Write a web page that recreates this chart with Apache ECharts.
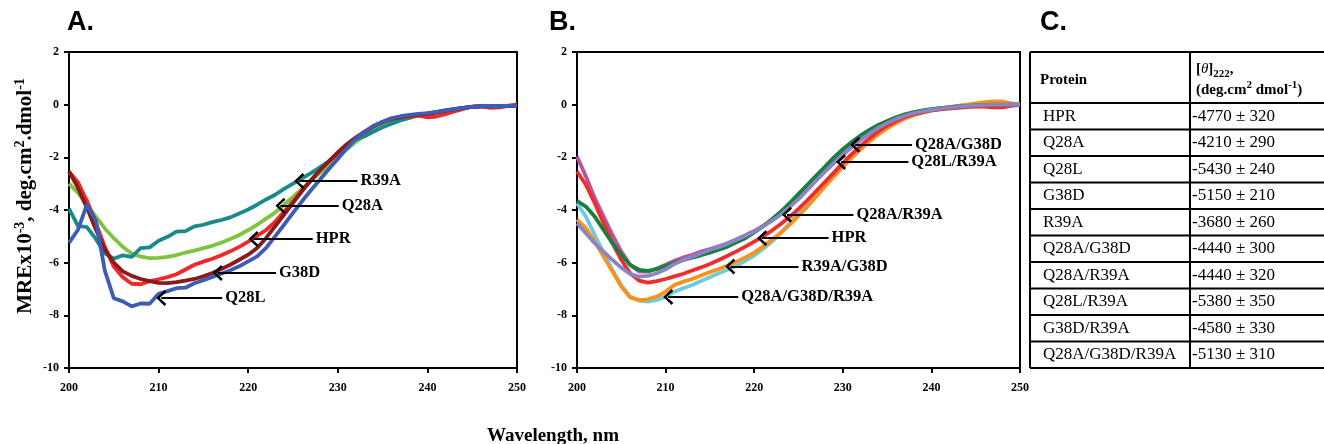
<!DOCTYPE html>
<html lang="en">
<head>
    <meta charset="UTF-8">
    <title>CD spectra</title>
    <script type="text/javascript" src="https://cdn.jsdelivr.net/npm/echarts@6/dist/echarts.min.js"></script>
    <style>
        html, body { margin: 0; padding: 0; background: #fff; }
        #chart { width: 1324px; height: 444px; }
    </style>
</head>
<body>
<div id="chart"></div>

<script type="text/javascript">
    // wavelength grid, nm
    var wavelengths = [200, 201, 202, 203, 204, 205, 206, 207, 208, 209, 210, 211, 212, 213, 214, 215, 216, 217, 218, 219,
        220, 221, 222, 223, 224, 225, 226, 227, 228, 229, 230, 231, 232, 233, 234, 235, 236, 237, 238, 239,
        240, 241, 242, 243, 244, 245, 246, 247, 248, 249, 250];

    // panel A, MRE x10^-3
    var a_HPR = [-2.55, -2.95, -3.65, -4.5, -5.4, -6.15, -6.55, -6.8, -6.82, -6.7, -6.63, -6.55, -6.44, -6.26, -6.08, -5.96, -5.85, -5.72, -5.57, -5.4,
        -5.2, -4.98, -4.76, -4.45, -4.07, -3.68, -3.25, -2.87, -2.5, -2.15, -1.85, -1.52, -1.26, -1.05, -0.82, -0.66, -0.52, -0.46, -0.45, -0.42,
        -0.48, -0.45, -0.36, -0.26, -0.16, -0.07, -0.06, -0.12, -0.1, -0.05, 0.0];
    var a_Q28A = [-3.0, -3.35, -3.8, -4.25, -4.7, -5.07, -5.4, -5.65, -5.77, -5.83, -5.82, -5.78, -5.71, -5.62, -5.54, -5.45, -5.36, -5.24, -5.1, -4.95,
        -4.76, -4.56, -4.33, -4.1, -3.8, -3.5, -3.2, -2.9, -2.6, -2.3, -2.0, -1.7, -1.42, -1.17, -0.96, -0.8, -0.65, -0.55, -0.46, -0.39,
        -0.33, -0.28, -0.22, -0.17, -0.12, -0.08, -0.06, -0.06, -0.05, -0.04, -0.03];
    var a_Q28L = [-5.25, -4.75, -3.8, -4.4, -6.3, -7.35, -7.47, -7.66, -7.55, -7.56, -7.18, -7.08, -6.97, -6.95, -6.78, -6.67, -6.54, -6.42, -6.29, -6.14,
        -5.95, -5.76, -5.44, -5.0, -4.56, -4.11, -3.67, -3.25, -2.85, -2.44, -2.06, -1.66, -1.3, -1.02, -0.8, -0.65, -0.52, -0.44, -0.39, -0.35,
        -0.32, -0.27, -0.22, -0.17, -0.12, -0.08, -0.06, -0.05, -0.05, -0.05, -0.04];
    var a_G38D = [-2.53, -3.16, -3.92, -4.75, -5.5, -6.0, -6.33, -6.5, -6.62, -6.7, -6.77, -6.78, -6.74, -6.68, -6.62, -6.52, -6.39, -6.24, -6.08, -5.89,
        -5.7, -5.44, -5.06, -4.62, -4.18, -3.73, -3.29, -2.87, -2.49, -2.15, -1.81, -1.5, -1.25, -1.02, -0.82, -0.67, -0.55, -0.47, -0.42, -0.38,
        -0.35, -0.3, -0.24, -0.18, -0.12, -0.08, -0.06, -0.06, -0.06, -0.05, -0.04];
    var a_R39A = [-3.95, -4.6, -4.65, -5.1, -5.65, -5.85, -5.72, -5.78, -5.45, -5.42, -5.17, -5.02, -4.82, -4.8, -4.62, -4.56, -4.46, -4.38, -4.28, -4.13,
        -3.98, -3.8, -3.6, -3.42, -3.2, -3.0, -2.8, -2.6, -2.38, -2.15, -1.88, -1.58, -1.32, -1.2, -1.02, -0.86, -0.72, -0.6, -0.5, -0.41,
        -0.34, -0.28, -0.22, -0.17, -0.12, -0.08, -0.06, -0.05, -0.05, -0.05, -0.05];

    // panel B
    var b_HPR = [-2.54, -3.04, -3.74, -4.5, -5.26, -5.9, -6.4, -6.68, -6.76, -6.7, -6.62, -6.52, -6.42, -6.3, -6.18, -6.05, -5.9, -5.74, -5.57, -5.39,
        -5.2, -5.0, -4.78, -4.53, -4.26, -3.96, -3.63, -3.28, -2.93, -2.58, -2.22, -1.88, -1.57, -1.28, -1.02, -0.8, -0.62, -0.47, -0.36, -0.28,
        -0.22, -0.18, -0.15, -0.12, -0.09, -0.07, -0.07, -0.1, -0.1, -0.05, 0.0];
    var b_Q28A_R39A = [-1.97, -2.72, -3.55, -4.25, -4.95, -5.58, -6.08, -6.34, -6.34, -6.22, -6.08, -5.93, -5.8, -5.7, -5.58, -5.48, -5.38, -5.26, -5.11, -4.96,
        -4.8, -4.6, -4.38, -4.13, -3.84, -3.53, -3.19, -2.84, -2.5, -2.17, -1.85, -1.56, -1.3, -1.06, -0.85, -0.67, -0.52, -0.4, -0.31, -0.24,
        -0.18, -0.13, -0.09, -0.06, -0.03, -0.01, 0.0, 0.02, 0.02, 0.01, 0.0];
    var b_Q28A_G38D = [-3.65, -3.87, -4.25, -4.76, -5.26, -5.7, -6.09, -6.27, -6.31, -6.25, -6.12, -6.0, -5.9, -5.81, -5.72, -5.62, -5.51, -5.39, -5.23, -5.07,
        -4.85, -4.62, -4.35, -4.06, -3.74, -3.39, -3.04, -2.69, -2.35, -2.0, -1.69, -1.42, -1.17, -0.96, -0.77, -0.62, -0.48, -0.37, -0.28, -0.22,
        -0.17, -0.13, -0.1, -0.07, -0.05, -0.03, -0.02, 0.0, 0.0, 0.0, 0.0];
    var b_Q28L_R39A = [-4.5, -4.88, -5.26, -5.58, -5.9, -6.19, -6.43, -6.53, -6.5, -6.4, -6.25, -6.05, -5.9, -5.77, -5.64, -5.51, -5.41, -5.28, -5.13, -4.98,
        -4.82, -4.62, -4.41, -4.18, -3.89, -3.59, -3.24, -2.88, -2.54, -2.22, -1.9, -1.62, -1.35, -1.1, -0.88, -0.7, -0.54, -0.42, -0.32, -0.25,
        -0.2, -0.15, -0.11, -0.08, -0.05, -0.03, -0.02, 0.0, 0.0, 0.0, 0.0];
    var b_R39A_G38D = [-4.37, -4.69, -5.2, -5.77, -6.34, -6.91, -7.32, -7.42, -7.39, -7.29, -7.1, -6.85, -6.72, -6.62, -6.49, -6.36, -6.24, -6.11, -5.96, -5.8,
        -5.62, -5.39, -5.13, -4.86, -4.56, -4.22, -3.87, -3.49, -3.1, -2.73, -2.37, -2.02, -1.7, -1.4, -1.13, -0.9, -0.7, -0.53, -0.4, -0.3,
        -0.22, -0.16, -0.1, -0.05, 0.0, 0.05, 0.1, 0.12, 0.12, 0.05, 0.0];
    var b_Q28A_G38D_R39A = [-3.74, -4.25, -4.94, -5.64, -6.28, -6.85, -7.29, -7.44, -7.48, -7.42, -7.29, -7.1, -6.97, -6.85, -6.7, -6.55, -6.4, -6.27, -6.12, -5.93,
        -5.73, -5.48, -5.2, -4.88, -4.5, -4.12, -3.74, -3.34, -2.96, -2.6, -2.25, -1.93, -1.62, -1.34, -1.08, -0.85, -0.66, -0.5, -0.38, -0.29,
        -0.22, -0.17, -0.12, -0.08, -0.05, -0.02, 0.0, 0.02, 0.02, 0.0, 0.0];

    // axis ticks
    var xTicks = [200, 210, 220, 230, 240, 250];
    var yTicks = [-10, -8, -6, -4, -2, 0, 2];

    // arrow annotations: label, tip wavelength, tip value, tail wavelength
    var arrowsA_label = ['R39A', 'Q28A', 'HPR', 'G38D', 'Q28L'];
    var arrowsA_tipX = [225.7, 223.6, 220.6, 216.6, 210.3];
    var arrowsA_tipY = [-2.9, -3.84, -5.1, -6.39, -7.34];
    var arrowsA_endX = [232.2, 230.1, 227.2, 223.1, 217.1];

    var arrowsB_label = ['Q28A/G38D', 'Q28L/R39A', 'Q28A/R39A', 'HPR', 'R39A/G38D', 'Q28A/G38D/R39A'];
    var arrowsB_tipX = [231.4, 229.8, 223.7, 220.9, 217.3, 210.3];
    var arrowsB_tipY = [-1.52, -2.18, -4.18, -5.07, -6.15, -7.3];
    var arrowsB_endX = [237.8, 237.4, 231.2, 228.4, 225.0, 218.2];

    // table C
    var tableProteins = ['HPR', 'Q28A', 'Q28L', 'G38D', 'R39A', 'Q28A/G38D', 'Q28A/R39A', 'Q28L/R39A', 'G38D/R39A', 'Q28A/G38D/R39A'];
    var tableTheta = ['-4770 ± 320', '-4210 ± 290', '-5430 ± 240', '-5150 ± 210', '-3680 ± 260',
        '-4440 ± 300', '-4440 ± 320', '-5380 ± 350', '-4580 ± 330', '-5130 ± 310'];

    var SERIF = "'Liberation Serif', 'Times New Roman', serif";
    var SANS = "'Liberation Sans', Arial, sans-serif";
    var CHEVRON = 'path://M7,0 L14,8 L12.2,9.6 L7,3.2 L1.8,9.6 L0,8 Z';

    function pairs(vals) {
        return wavelengths.map(function (w, i) { return [w, vals[i]]; });
    }

    function arrowData(labels, tipX, tipY, endX) {
        return labels.map(function (l, i) {
            return [{name: l, coord: [tipX[i], tipY[i]]}, {coord: [endX[i], tipY[i]]}];
        });
    }

    function markLineOf(data) {
        return {
            silent: true,
            animation: false,
            symbol: [CHEVRON, 'none'],
            symbolSize: [16, 10],
            lineStyle: {color: '#000', width: 2, type: 'solid'},
            label: {
                show: true, position: 'end', formatter: '{b}', distance: 3,
                color: '#000', fontWeight: 'bold', fontFamily: SERIF, fontSize: 16.5
            },
            emphasis: {disabled: true},
            data: data
        };
    }

    function xAxisOf(idx) {
        return {
            type: 'value', gridIndex: idx, min: xTicks[0], max: xTicks[xTicks.length - 1], interval: 10,
            axisLine: {show: true, onZero: false, lineStyle: {color: '#000', width: 2}},
            axisTick: {show: true, length: 5, lineStyle: {color: '#000', width: 2}},
            axisLabel: {color: '#000', fontWeight: 'bold', fontFamily: SERIF, fontSize: 12, margin: 14},
            splitLine: {show: false}
        };
    }

    function yAxisOf(idx) {
        return {
            type: 'value', gridIndex: idx, min: yTicks[0], max: yTicks[yTicks.length - 1], interval: 2,
            axisLine: {show: true, onZero: false, lineStyle: {color: '#000', width: 2}},
            axisTick: {show: true, length: 5, lineStyle: {color: '#000', width: 2}},
            axisLabel: {color: '#000', fontWeight: 'bold', fontFamily: SERIF, fontSize: 12, margin: 10},
            splitLine: {show: false}
        };
    }

    function lineOf(name, vals, color, idx, extra) {
        var s = {
            name: name, type: 'line', xAxisIndex: idx, yAxisIndex: idx,
            data: pairs(vals), showSymbol: false, symbol: 'none',
            lineStyle: {color: color, width: 3.8}, itemStyle: {color: color},
            silent: true
        };
        if (extra) s.markLine = extra;
        return s;
    }

    // rich text helpers: sup/sub get a small box aligned to the top/bottom of the line
    function richSet(size, supSize, lh) {
        return {
            b: {fontFamily: SERIF, fontWeight: 'bold', fontSize: size, lineHeight: lh, verticalAlign: 'middle', fill: '#000'},
            i: {fontFamily: SERIF, fontStyle: 'italic', fontSize: size, lineHeight: lh, verticalAlign: 'middle', fill: '#000'},
            sup: {fontFamily: SERIF, fontWeight: 'bold', fontSize: supSize, lineHeight: supSize, verticalAlign: 'top', fill: '#000'},
            sub: {fontFamily: SERIF, fontWeight: 'bold', fontSize: supSize, lineHeight: supSize, verticalAlign: 'bottom', fill: '#000'}
        };
    }

    // table graphics
    var tLeft = 1030, tMid = 1190, tRight = 1340, tTop = 52, tHead = 103, rowH = 26.5;
    var tableGraphics = [];
    var tBottom = tHead + rowH * tableProteins.length;
    tableGraphics.push({type: 'line', shape: {x1: tLeft, y1: tTop, x2: tRight, y2: tTop}, style: {stroke: '#000', lineWidth: 2}});
    tableGraphics.push({type: 'line', shape: {x1: tLeft, y1: tTop, x2: tLeft, y2: tBottom}, style: {stroke: '#000', lineWidth: 2}});
    tableGraphics.push({type: 'line', shape: {x1: tMid, y1: tTop, x2: tMid, y2: tBottom}, style: {stroke: '#000', lineWidth: 2}});
    tableGraphics.push({type: 'line', shape: {x1: tLeft, y1: tHead, x2: tRight, y2: tHead}, style: {stroke: '#000', lineWidth: 2}});
    tableProteins.forEach(function (p, i) {
        var yb = tHead + rowH * (i + 1);
        tableGraphics.push({type: 'line', shape: {x1: tLeft, y1: yb, x2: tRight, y2: yb}, style: {stroke: '#000', lineWidth: 2}});
        var yc = tHead + rowH * (i + 0.5);
        tableGraphics.push({type: 'text', x: 1043, y: yc, style: {text: p, font: '17px ' + SERIF, fill: '#000', verticalAlign: 'middle'}});
        tableGraphics.push({type: 'text', x: 1192, y: yc, style: {text: tableTheta[i], font: '17px ' + SERIF, fill: '#000', verticalAlign: 'middle'}});
    });
    tableGraphics.push({type: 'text', x: 1040, y: 80, style: {text: 'Protein', font: 'bold 15px ' + SERIF, fill: '#000', verticalAlign: 'middle'}});
    tableGraphics.push({
        type: 'text', x: 1196, y: 80,
        style: {
            text: '{b|[}{i|θ}{b|]}{sub|222}{b|,}\n{b|(deg.cm}{sup|2}{b| dmol}{sup|-1}{b|)}',
            verticalAlign: 'middle', fill: '#000',
            rich: richSet(15, 11, 21)
        }
    });

    var chart = echarts.init(document.getElementById('chart'), null, {renderer: 'canvas'});
    chart.setOption({
        animation: false,
        backgroundColor: '#fff',
        grid: [
            {left: 69, right: 807, top: 52, bottom: 76, show: true, borderColor: '#000', borderWidth: 2, backgroundColor: 'transparent'},
            {left: 577, right: 304, top: 52, bottom: 76, show: true, borderColor: '#000', borderWidth: 2, backgroundColor: 'transparent'}
        ],
        xAxis: [xAxisOf(0), xAxisOf(1)],
        yAxis: [yAxisOf(0), yAxisOf(1)],
        series: [
            lineOf('Q28A', a_Q28A, '#80c341', 0, markLineOf(arrowData(arrowsA_label, arrowsA_tipX, arrowsA_tipY, arrowsA_endX))),
            lineOf('R39A', a_R39A, '#178a8c', 0),
            lineOf('HPR', a_HPR, '#f0282a', 0),
            lineOf('G38D', a_G38D, '#8a1a1c', 0),
            lineOf('Q28L', a_Q28L, '#3d5cb4', 0),

            lineOf('Q28A/R39A', b_Q28A_R39A, '#b9529f', 1, markLineOf(arrowData(arrowsB_label, arrowsB_tipX, arrowsB_tipY, arrowsB_endX))),
            lineOf('Q28A/G38D/R39A', b_Q28A_G38D_R39A, '#6fcbdc', 1),
            lineOf('R39A/G38D', b_R39A_G38D, '#f7921e', 1),
            lineOf('HPR', b_HPR, '#ee2d2f', 1),
            lineOf('Q28A/G38D', b_Q28A_G38D, '#17803f', 1),
            lineOf('Q28L/R39A', b_Q28L_R39A, '#8884c6', 1)
        ],
        graphic: [
            {type: 'text', x: 67, y: 23, style: {text: 'A.', font: 'bold 27px ' + SANS, fill: '#000', verticalAlign: 'middle'}},
            {type: 'text', x: 549, y: 23, style: {text: 'B.', font: 'bold 27px ' + SANS, fill: '#000', verticalAlign: 'middle'}},
            {type: 'text', x: 1040, y: 23, style: {text: 'C.', font: 'bold 27px ' + SANS, fill: '#000', verticalAlign: 'middle'}},
            {
                type: 'text', x: 26, y: 196, rotation: Math.PI / 2,
                style: {
                    text: '{b|MREx10}{sup|-3}{b|, deg.cm}{sup|2}{b|.dmol}{sup|-1}',
                    align: 'center', verticalAlign: 'middle', fill: '#000',
                    rich: richSet(21, 14, 26)
                }
            },
            {type: 'text', x: 553, y: 436, style: {text: 'Wavelength, nm', font: 'bold 19px ' + SERIF, fill: '#000', align: 'center', verticalAlign: 'middle'}}
        ].concat(tableGraphics)
    });
</script>
</body>
</html>
